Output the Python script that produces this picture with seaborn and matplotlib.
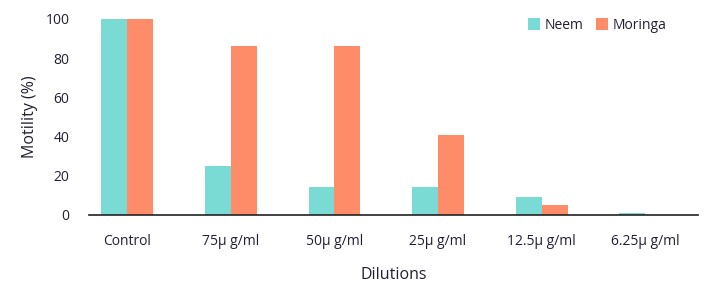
import numpy as np
import pandas as pd
import matplotlib
matplotlib.use('Agg')
import matplotlib.pyplot as plt
import seaborn as sns

# data
dilutions = ['Control', '75μ g/ml', '50μ g/ml', '25μ g/ml', '12.5μ g/ml', '6.25μ g/ml']
neem = [100, 25, 14.5, 14.5, 9.3, 1]
moringa = [100, 86, 86, 41, 5, 0]
groups = ['Neem', 'Moringa']
colors = ['#7adbd5', '#ff8c69']

df = pd.DataFrame({
    'Dilutions': dilutions * 2,
    'Motility': neem + moringa,
    'Extract': ['Neem'] * len(dilutions) + ['Moringa'] * len(dilutions),
})

sns.set_style('white')
plt.rcParams['font.family'] = ['Open Sans', 'DejaVu Sans']
text_col = '#231f33'

fig = plt.figure(figsize=(7.1, 2.9), dpi=100)
ax = fig.add_axes([89 / 710, 1 - 215 / 290, (698 - 89) / 710, (215 - 19) / 290])

sns.barplot(data=df, x='Dilutions', y='Motility', hue='Extract',
            hue_order=groups, palette=colors, width=0.5, saturation=1,
            ax=ax, edgecolor='none')

ax.set_xlim(-0.37, 5.51)
ax.set_ylim(0, 100)
ax.set_yticks([0, 20, 40, 60, 80, 100])
for s in ['top', 'right', 'left']:
    ax.spines[s].set_visible(False)
ax.spines['bottom'].set_color('#222222')
ax.spines['bottom'].set_linewidth(1.2)
ax.tick_params(axis='both', length=0, labelsize=10, colors=text_col)
ax.tick_params(axis='x', pad=14)
ax.tick_params(axis='y', pad=14)

ax.set_xlabel('Dilutions', fontsize=11.5, color=text_col)
ax.xaxis.set_label_coords(0.5, -0.265)
ax.set_ylabel('Motility (%)', fontsize=11.5, color=text_col)
ax.yaxis.set_label_coords(-0.083, 0.5)

leg = ax.legend(loc='upper left', bbox_to_anchor=(0.7, 1.07), ncol=2, frameon=False,
                fontsize=10, handlelength=0.9, handleheight=0.9,
                handletextpad=0.3, columnspacing=0.9)
for t in leg.get_texts():
    t.set_color(text_col)

fig.savefig('out.png', dpi=100)
